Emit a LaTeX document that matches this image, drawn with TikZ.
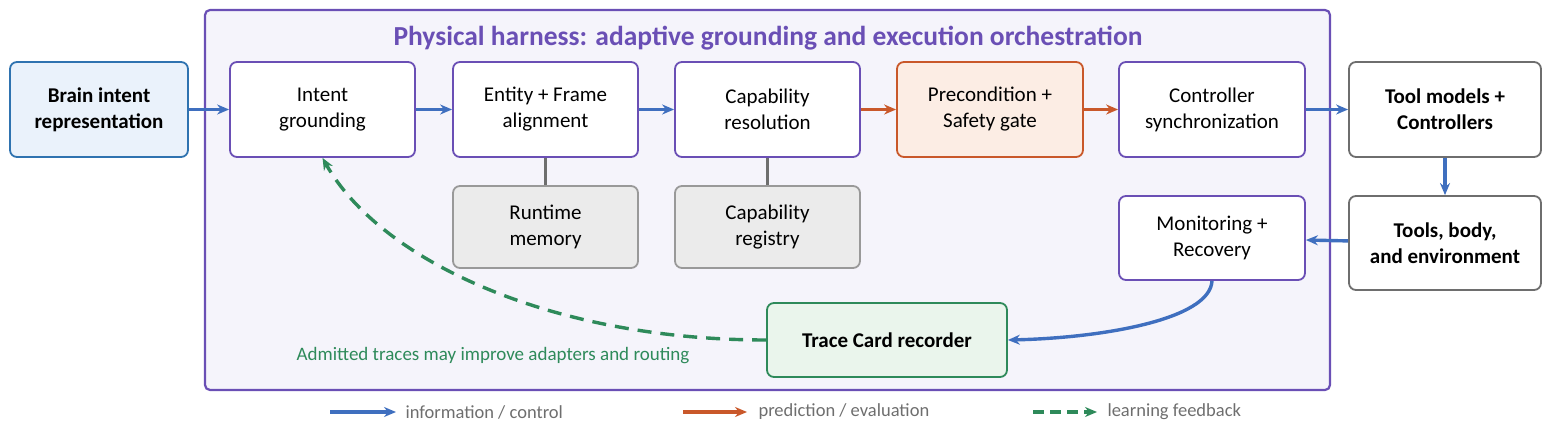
\documentclass[tikz,border=0pt]{standalone}
\usepackage{fontspec}
\setmainfont{Carlito}
\usetikzlibrary{arrows.meta}
\definecolor{purp}{HTML}{6A4FB5}
\definecolor{lav}{HTML}{F5F4FB}
\definecolor{blu}{HTML}{3F6FBF}
\definecolor{bluefill}{HTML}{EAF2FB}
\definecolor{blueborder}{HTML}{2F73B0}
\definecolor{org}{HTML}{C9582A}
\definecolor{orgfill}{HTML}{FCEDE4}
\definecolor{grn}{HTML}{2E8A5A}
\definecolor{grnfill}{HTML}{EAF5EC}
\definecolor{gry}{HTML}{6E6E6E}
\definecolor{gryfill}{HTML}{EBEBEB}
\tikzset{
 box/.style={draw=purp,fill=white,line width=1.8pt,rounded corners=7pt,align=center,font=\fontsize{21}{26}\selectfont},
 ext/.style={box,draw=gry,font=\fontsize{21}{26}\selectfont\bfseries},
 store/.style={box,draw=gry!70,fill=gryfill},
 barr/.style={-{Stealth[length=12pt,width=10pt]},blu,line width=3.4pt},
 oarr/.style={-{Stealth[length=12pt,width=10pt]},org,line width=3.4pt},
 garr/.style={-{Stealth[length=12pt,width=10pt]},grn,line width=3.4pt,dash pattern=on 14pt off 9pt},
 leg/.style={anchor=west,text=gry,font=\fontsize{18.5}{22}\selectfont},
}
\begin{document}
\begin{tikzpicture}[x=1pt,y=-1pt]
\useasboundingbox (0,0) rectangle (1556,435);
\draw[purp,fill=lav,line width=2.2pt,rounded corners=5pt] (205,10) rectangle (1330,390);
\node[text=purp,font=\fontsize{27.5}{32}\selectfont\bfseries] (title) at (768,38) {Physical harness: adaptive grounding and execution orchestration};
\node[box,draw=blueborder,fill=bluefill,font=\fontsize{21}{26}\selectfont\bfseries,minimum width=178pt,minimum height=95pt] (brain) at (99,109.5) {Brain intent\\representation};
\node[box,minimum width=185pt,minimum height=95pt] (ig) at (322.5,109.5) {Intent\\grounding};
\node[box,minimum width=185pt,minimum height=95pt] (ef) at (545.5,109.5) {Entity + Frame\\alignment};
\node[box,minimum width=185pt,minimum height=95pt] (cr) at (767.5,109.5) {Capability\\resolution};
\node[box,draw=org,fill=orgfill,minimum width=186pt,minimum height=95pt] (pc) at (990,109.5) {Precondition +\\Safety gate};
\node[box,minimum width=186pt,minimum height=95pt] (cs) at (1212,109.5) {Controller\\synchronization};
\node[ext,minimum width=192pt,minimum height=95pt] (tm) at (1445,109.5) {Tool models +\\Controllers};
\node[ext,minimum width=192pt,minimum height=94pt] (tb) at (1445,243) {Tools, body,\\and environment};
\node[box,minimum width=186pt,minimum height=84pt] (mr) at (1212,238) {Monitoring +\\Recovery};
\node[store,minimum width=185pt,minimum height=82pt] (rm) at (545.5,227) {Runtime\\memory};
\node[store,minimum width=185pt,minimum height=82pt] (reg) at (767.5,227) {Capability\\registry};
\node[box,draw=grn,fill=grnfill,font=\fontsize{21}{26}\selectfont\bfseries,minimum width=240pt,minimum height=74pt] (tc) at (887,340) {Trace Card recorder};
\draw[barr] (brain) -- (ig);
\draw[barr] (ig) -- (ef);
\draw[barr] (ef) -- (cr);
\draw[oarr] (cr) -- (pc);
\draw[oarr] (pc) -- (cs);
\draw[barr] (cs) -- (tm);
\draw[barr] (tm) -- (tb);
\draw[barr] (tb) -- (mr);
\draw[gry,line width=3pt] (ef.south) -- (rm.north);
\draw[gry,line width=3pt] (cr.south) -- (reg.north);
\draw[barr] (mr.south) .. controls (1210,320) and (1100,338) .. (tc.east);
\draw[garr] (tc.west) .. controls (550,340) and (380,260) .. (ig.south);
\node[text=grn,font=\fontsize{19}{22}\selectfont] (lbl) at (493,356) {Admitted traces may improve adapters and routing};
\coordinate (l1a) at (330,412); \coordinate (l1b) at (396,412);
\draw[barr,line width=4pt] (l1a) -- (l1b);
\node[leg] (t1) at (402,412) {information / control};
\coordinate (l2a) at (683,412); \coordinate (l2b) at (747,412);
\draw[oarr,line width=4pt] (l2a) -- (l2b);
\node[leg] (t2) at (755,412) {prediction / evaluation};
\coordinate (l3a) at (1033,412); \coordinate (l3b) at (1097,412);
\draw[garr,line width=4pt,dash pattern=on 11pt off 6pt] (l3a) -- (l3b);
\node[leg] (t3) at (1104,412) {learning feedback};
\end{tikzpicture}
\end{document}
